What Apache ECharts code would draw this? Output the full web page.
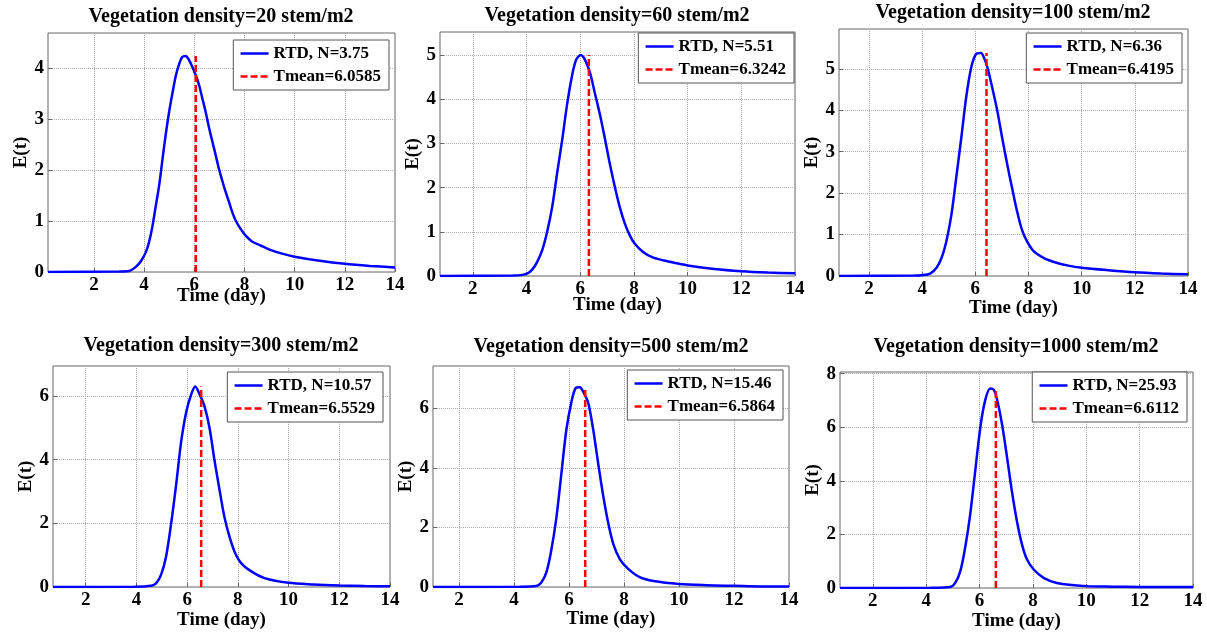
<!DOCTYPE html>
<html>
<head>
<meta charset="utf-8">
<script src="https://cdn.jsdelivr.net/npm/echarts@6/dist/echarts.min.js"></script>
<style>
    html, body { margin: 0; padding: 0; background: #fff; }
    #chart { width: 1207px; height: 636px; }
</style>
</head>
<body>
<div id="chart"></div>
<script>
// values
let densities = [20, 60, 100, 300, 500, 1000];
let nValues = ['3.75', '5.51', '6.36', '10.57', '15.46', '25.93'];
let tMeans = ['6.0585', '6.3242', '6.4195', '6.5529', '6.5864', '6.6112'];
let xMins = [0.17, 0.78, 0.87, 0.71, 1.05, 0.77];
let yMaxs = [4.69, 5.52, 5.96, 6.94, 7.42, 8.06];
let xTicks = [2, 4, 6, 8, 10, 12, 14];
let yTicks = [
    [0, 1, 2, 3, 4],
    [0, 1, 2, 3, 4, 5],
    [0, 1, 2, 3, 4, 5],
    [0, 2, 4, 6],
    [0, 2, 4, 6],
    [0, 2, 4, 6, 8]
];

let t1 = [0.17, 3.0, 3.4, 3.67, 3.87, 4.07, 4.2, 4.33, 4.46, 4.6, 4.73, 4.86, 5.0, 5.13, 5.26, 5.39, 5.52, 5.66, 5.79, 5.92, 6.05, 6.19, 6.32, 6.45, 6.58, 6.72, 6.85, 6.98, 7.11, 7.25, 7.38, 7.51, 7.64, 7.84, 8.04, 8.3, 8.64, 9.0, 9.5, 10, 11, 12, 13, 14];
let e1 = [0, 0.01, 0.02, 0.1, 0.21, 0.39, 0.59, 0.89, 1.28, 1.7, 2.2, 2.69, 3.15, 3.51, 3.84, 4.07, 4.22, 4.24, 4.16, 4.03, 3.87, 3.67, 3.41, 3.15, 2.85, 2.56, 2.3, 2.03, 1.8, 1.57, 1.38, 1.18, 1.02, 0.85, 0.72, 0.6, 0.52, 0.44, 0.36, 0.3, 0.22, 0.16, 0.12, 0.09];

let t2 = [0.78, 3.5, 3.79, 4.04, 4.22, 4.4, 4.59, 4.77, 4.96, 5.14, 5.33, 5.51, 5.69, 5.85, 6.02, 6.18, 6.37, 6.55, 6.74, 6.92, 7.1, 7.29, 7.47, 7.66, 7.84, 8.02, 8.33, 8.7, 9.13, 9.5, 10, 11, 12, 13, 14];
let e2 = [0, 0.01, 0.02, 0.06, 0.15, 0.32, 0.59, 1.0, 1.57, 2.32, 3.08, 3.87, 4.51, 4.89, 5.0, 4.89, 4.59, 4.13, 3.64, 3.11, 2.55, 2.02, 1.57, 1.19, 0.93, 0.74, 0.55, 0.42, 0.35, 0.3, 0.24, 0.16, 0.11, 0.08, 0.06];

let t3 = [0.87, 3.7, 3.99, 4.3, 4.54, 4.73, 4.91, 5.1, 5.28, 5.47, 5.65, 5.84, 6.02, 6.21, 6.33, 6.46, 6.64, 6.83, 7.01, 7.2, 7.38, 7.57, 7.75, 7.94, 8.19, 8.56, 9.05, 9.5, 10, 11, 12, 13, 14];
let e3 = [0, 0.01, 0.02, 0.06, 0.2, 0.44, 0.84, 1.48, 2.37, 3.33, 4.29, 5.02, 5.35, 5.38, 5.26, 5.02, 4.53, 3.97, 3.33, 2.69, 2.13, 1.56, 1.12, 0.84, 0.6, 0.44, 0.32, 0.25, 0.2, 0.14, 0.09, 0.06, 0.04];

let t4 = [0.71, 3.92, 4.58, 4.78, 4.97, 5.17, 5.37, 5.57, 5.76, 5.96, 6.16, 6.32, 6.49, 6.68, 6.88, 7.08, 7.28, 7.47, 7.67, 7.87, 8.13, 8.53, 9.05, 10, 11, 12, 13, 14];
let e4 = [0, 0.01, 0.04, 0.12, 0.38, 0.96, 2.0, 3.24, 4.54, 5.48, 6.05, 6.3, 6.05, 5.69, 5.01, 3.97, 3.04, 2.2, 1.58, 1.11, 0.75, 0.49, 0.28, 0.13, 0.08, 0.05, 0.03, 0.02];

let t5 = [1.05, 4.2, 4.8, 4.99, 5.17, 5.35, 5.54, 5.72, 5.9, 6.09, 6.24, 6.39, 6.54, 6.7, 6.88, 7.06, 7.24, 7.43, 7.61, 7.85, 8.16, 8.59, 9.07, 10, 11, 12, 13, 14];
let e5 = [0, 0.01, 0.03, 0.15, 0.48, 1.22, 2.34, 3.81, 5.27, 6.23, 6.68, 6.71, 6.51, 6.17, 5.27, 4.14, 3.07, 2.12, 1.44, 0.93, 0.6, 0.32, 0.2, 0.1, 0.06, 0.04, 0.02, 0.02];

let t6 = [0.77, 4.15, 4.9, 5.09, 5.28, 5.46, 5.65, 5.84, 6.03, 6.21, 6.4, 6.53, 6.65, 6.84, 7.03, 7.21, 7.4, 7.59, 7.78, 8.03, 8.4, 8.9, 10, 11, 12, 13, 14];
let e6 = [0, 0.01, 0.04, 0.19, 0.63, 1.5, 2.75, 4.38, 6.0, 7.0, 7.44, 7.4, 7.06, 6.13, 4.88, 3.63, 2.5, 1.63, 1.06, 0.69, 0.38, 0.19, 0.07, 0.05, 0.04, 0.04, 0.04];

let times = [t1, t2, t3, t4, t5, t6];
let values = [e1, e2, e3, e4, e5, e6];

// layout
let grids = [
    {left: 48, top: 33, width: 347, height: 239},
    {left: 440, top: 32, width: 355, height: 244},
    {left: 839, top: 29, width: 349, height: 247},
    {left: 53, top: 366, width: 337, height: 221},
    {left: 433, top: 366, width: 356, height: 221},
    {left: 840, top: 372, width: 353, height: 216}
];
let titlePos = [[221, 17], [617, 16], [1013, 13], [221, 346], [611, 347], [1016, 347]];
let legendPos = [[818, 40], [413, 33], [25, 33], [824, 372], [424, 370], [20, 372]];
let xNameGaps = [15, 20, 23, 24, 23, 24];

let font = 'Liberation Serif';

window.onload = function () {
    let chart = echarts.init(document.getElementById('chart'));
    let option = {
        animation: false,
        backgroundColor: '#fff',
        title: [], legend: [], grid: [], xAxis: [], yAxis: [], series: []
    };
    for (let i = 0; i < 6; i++) {
        let rtdName = 'RTD, N=' + nValues[i];
        let meanName = 'Tmean=' + tMeans[i];
        let pts = times[i].map((t, k) => [t, values[i][k]]);
        let peak = Math.max(...values[i]);
        let tm = parseFloat(tMeans[i]);

        option.grid.push(Object.assign({
            show: true, borderColor: '#666', borderWidth: 1, backgroundColor: '#fff'
        }, grids[i]));

        option.title.push({
            text: 'Vegetation density=' + densities[i] + ' stem/m2',
            left: titlePos[i][0], top: titlePos[i][1],
            textAlign: 'center', textVerticalAlign: 'middle', padding: 0,
            textStyle: {fontFamily: font, fontWeight: 'bold', fontSize: 20, color: '#000'}
        });

        option.legend.push({
            orient: 'vertical',
            right: legendPos[i][0], top: legendPos[i][1],
            data: [rtdName, meanName],
            selectedMode: false,
            itemWidth: 28, itemHeight: 12, itemGap: 6,
            padding: [5, 8, 5, 6],
            borderColor: '#555', borderWidth: 1, backgroundColor: '#fff',
            itemStyle: {opacity: 0},
            lineStyle: {width: 2.5},
            textStyle: {fontFamily: font, fontWeight: 'bold', fontSize: 17, color: '#000'}
        });

        option.xAxis.push({
            gridIndex: i, type: 'value', min: xMins[i], max: 14,
            name: 'Time (day)', nameLocation: 'middle', nameGap: xNameGaps[i],
            nameMoveOverlap: false,
            nameTextStyle: {fontFamily: font, fontWeight: 'bold', fontSize: 19, color: '#000'},
            axisLine: {show: false},
            axisTick: {show: true, inside: true, length: 4, customValues: xTicks, lineStyle: {color: '#666'}},
            axisLabel: {customValues: xTicks, margin: 4, fontFamily: font, fontWeight: 'bold', fontSize: 19, color: '#000'},
            splitLine: {show: true, lineStyle: {type: 'dotted', color: '#aaa', width: 1}}
        });

        option.yAxis.push({
            gridIndex: i, type: 'value', min: 0, max: yMaxs[i],
            name: 'E(t)', nameLocation: 'middle', nameGap: 16,
            nameTextStyle: {fontFamily: font, fontWeight: 'bold', fontSize: 19, color: '#000'},
            axisLine: {show: false},
            axisTick: {show: true, inside: true, length: 4, customValues: yTicks[i], lineStyle: {color: '#666'}},
            axisLabel: {customValues: yTicks[i], margin: 4, fontFamily: font, fontWeight: 'bold', fontSize: 19, color: '#000'},
            splitLine: {show: true, lineStyle: {type: 'dotted', color: '#aaa', width: 1}}
        });

        option.series.push({
            name: rtdName, type: 'line', xAxisIndex: i, yAxisIndex: i,
            data: pts, symbol: 'none', smooth: 0.3,
            lineStyle: {color: '#0000ff', width: 2.5},
            itemStyle: {color: '#0000ff'}
        });
        option.series.push({
            name: meanName, type: 'line', xAxisIndex: i, yAxisIndex: i,
            data: [[tm, 0], [tm, peak]], symbol: 'none',
            lineStyle: {color: '#ff0000', width: 2.5, type: [7, 3]},
            itemStyle: {color: '#ff0000'}
        });
    }
    chart.setOption(option);
}
</script>
</body>
</html>
